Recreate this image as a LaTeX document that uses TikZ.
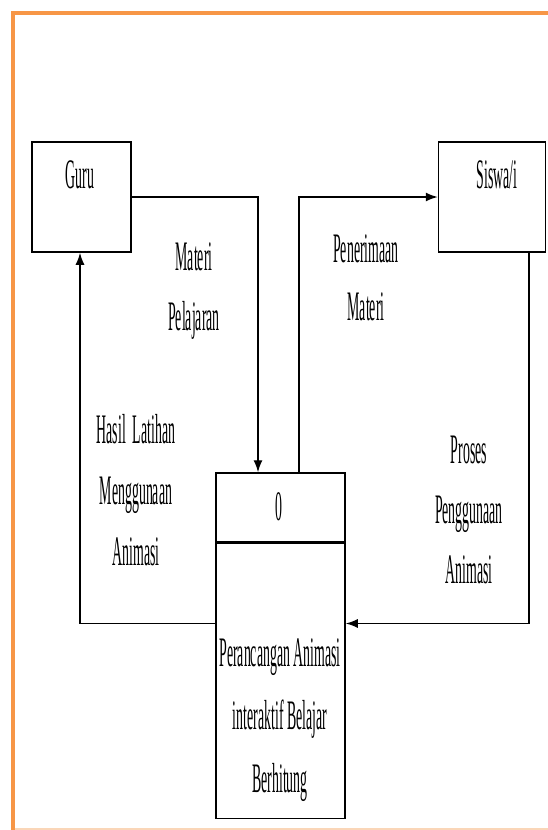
\documentclass[tikz,border=0pt]{standalone}
\usepackage{fontspec}
\newfontfamily\dfdfont[FakeStretch=0.33]{Liberation Serif}
\usetikzlibrary{arrows.meta,positioning}
\definecolor{frameorange}{HTML}{F79646}
\definecolor{framepeach}{HTML}{FAD6B8}

\tikzset{
  box/.style={draw, line width=1.5pt, inner sep=0pt},
  flow/.style={line width=1.4pt, -{Latex[length=12pt,width=9pt]}},
  lbl/.style={font=\dfdfont\fontsize{42}{61}\selectfont, align=center, anchor=base, inner sep=0pt}
}

\begin{document}
\begin{tikzpicture}[x=1pt,y=-1pt]
            \useasboundingbox (0,0) rectangle (548,830);
            % frame
            \draw[frameorange, line width=4pt] (12.5,830) -- (12.5,13) -- (548,13);
            \draw[framepeach, line width=2pt] (14.5,829) -- (548,829);

            \node (guru)   [box, minimum width=99pt, minimum height=110pt] at (81.5,197) {};
            \node (siswa)  [box, minimum width=107pt, minimum height=110pt] at (492,197) {};
            \node (pid)    [box, minimum width=129pt, minimum height=69pt] at (280.5,507.5) {};
            \node (proc)   [box, minimum width=129pt, minimum height=275pt, below=0pt of pid] {};

            \node (gurutxt)  [lbl] at (80,188) {Guru};
            \node (siswatxt) [lbl] at (497,188) {Siswa/i};
            \node (pidtxt)   [lbl] at (279,520) {0};
            \node (proctxt)  [lbl, font=\dfdfont\fontsize{42}{63}\selectfont] at (280,792) {Perancangan Animasi\\interaktif Belajar\\Berhitung};

            \draw[flow] (guru.east) -| ([xshift=-22.5pt]pid.north);
            \draw[flow] ([xshift=18.5pt]pid.north) |- (siswa.west);
            \draw[flow] ([xshift=37pt]siswa.south) |- ([yshift=57.5pt]proc.east);
            \draw[flow] ([yshift=57.5pt]proc.west) -| ([xshift=-1.5pt]guru.south);

            \node (materi)  [lbl, font=\dfdfont\fontsize{42}{60}\selectfont] at (194,330) {Materi\\Pelajaran};
            \node (terima)  [lbl, font=\dfdfont\fontsize{42}{58}\selectfont] at (366,320) {Penerimaan\\Materi};
            \node (hasil)   [lbl] at (136,565) {Hasil~~Latihan\\Menggunaan\\Animasi};
            \node (proses)  [lbl, font=\dfdfont\fontsize{42}{60}\selectfont] at (469,583) {Proses\\Penggunaan\\Animasi};

        \end{tikzpicture}
\end{document}
